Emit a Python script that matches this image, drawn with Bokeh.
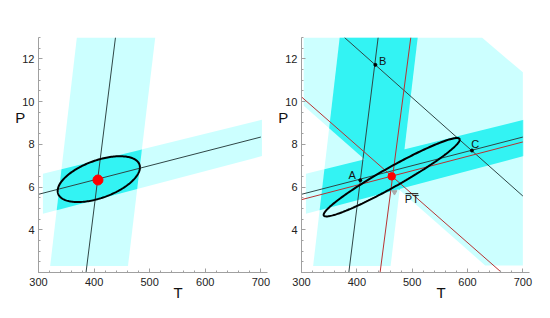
import numpy as np
from bokeh.plotting import figure
from bokeh.layouts import row
from bokeh.models import Range1d, FixedTicker, Title
from bokeh.embed import file_html
from bokeh.resources import INLINE
from bokeh.core.properties import value

# ---------------- data ----------------
x_ticks = [300, 400, 500, 600, 700]
y_ticks = [4, 6, 8, 10, 12]

# uncertainty bands (polygon vertices, T and P)
steep_band_T = [321, 461, 510, 369]
steep_band_P = [2.3, 2.3, 13.0, 13.0]
shallow_band_T = [308, 702, 702, 308]
shallow_band_P = [4.75, 7.45, 9.15, 6.62]
desc_band_T = [304, 626, 700, 700, 632, 304]
desc_band_P = [13.0, 13.0, 11.37, 2.33, 2.33, 9.80]

# reaction lines (end points)
black_steep_T = [385.5, 438.5]
black_steep_P = [2.0, 13.0]
black_shallow_T = [300, 700]
black_shallow_P = [5.66, 8.34]
black_desc_T = [377.7, 700]
black_desc_P = [13.0, 5.58]
red_steep_T = [442, 497.5]
red_steep_P = [2.0, 13.0]
red_shallow_T = [300, 700]
red_shallow_P = [5.41, 8.11]
red_desc_T = [300, 661.6]
red_desc_P = [10.22, 2.0]

# error ellipses: centre, T half-extent, P at T-extreme, P half-chord at centre
ell_left = dict(T=408.5, P=6.37, a=74.0, b=0.55, c=0.92)
ell_right = dict(T=463.0, P=6.46, a=123.0, b=1.76, c=0.52)

# best estimates (red dots)
best_left_T, best_left_P = [407], [6.33]
best_right_T, best_right_P = [463], [6.50]

# intersection points A, B, C
pt_names = ["A", "B", "C"]
pt_T = [406.3, 433.5, 608.0]
pt_P = [6.32, 11.72, 7.71]
pt_label_T = [391.6, 446.5, 614.0]
pt_label_P = [6.58, 11.89, 8.00]

pt_bar_T, pt_bar_P = 499.5, 5.45     # "PT" label
arrow_T, arrow_P = 468.0, 5.76

# ---------------- helpers ----------------
LIGHT = "#ccffff"
DARK = "#33f3f3"
LINE_BLACK = "#2f4646"
LINE_RED = "#b83232"
FONT = "Liberation Sans"


def area(poly):
    s = 0.0
    for i in range(len(poly)):
        x1, y1 = poly[i - 1]
        x2, y2 = poly[i]
        s += x1 * y2 - x2 * y1
    return s / 2


def clip_poly(subj, clip):
    if area(clip) < 0:
        clip = clip[::-1]
    out = list(subj)
    for i in range(len(clip)):
        a = clip[i]
        b = clip[(i + 1) % len(clip)]
        inp, out = out, []
        if not inp:
            break

        def inside(p):
            return (b[0] - a[0]) * (p[1] - a[1]) - (b[1] - a[1]) * (p[0] - a[0]) >= 0

        def inter(p, q):
            x1, y1 = p
            x2, y2 = q
            x3, y3 = a
            x4, y4 = b
            den = (x1 - x2) * (y3 - y4) - (y1 - y2) * (x3 - x4)
            t = ((x1 - x3) * (y3 - y4) - (y1 - y3) * (x3 - x4)) / den
            return (x1 + t * (x2 - x1), y1 + t * (y2 - y1))

        for j in range(len(inp)):
            cur, prev = inp[j], inp[j - 1]
            if inside(cur):
                if not inside(prev):
                    out.append(inter(prev, cur))
                out.append(cur)
            elif inside(prev):
                out.append(inter(prev, cur))
    return out


def poly(T, P):
    return list(zip(T, P))


def ellipse_pts(e):
    t = np.linspace(0, 2 * np.pi, 200)
    return e["T"] + e["a"] * np.cos(t), e["P"] + e["b"] * np.cos(t) + e["c"] * np.sin(t)


def make_fig(bl, br):
    p = figure(width=275, height=318, x_range=Range1d(300, 712), y_range=Range1d(2, 13),
               output_backend="svg", toolbar_location=None,
               min_border_left=bl, min_border_right=br, min_border_top=37, min_border_bottom=46)
    p.grid.visible = False
    p.outline_line_color = None
    p.background_fill_color = "white"
    p.border_fill_color = "white"
    for ax in (p.xaxis[0], p.yaxis[0]):
        ax.axis_line_color = "#a0a0a0"
        ax.major_tick_line_color = "#a0a0a0"
        ax.minor_tick_line_color = "#a0a0a0"
        ax.major_tick_in = 4
        ax.major_tick_out = 0
        ax.minor_tick_in = 2
        ax.minor_tick_out = 0
        ax.major_label_text_font = FONT
        ax.major_label_text_font_size = "11px"
        ax.major_label_text_color = "#222222"
    p.xaxis.ticker = FixedTicker(ticks=x_ticks, minor_ticks=list(range(300, 720, 20)))
    p.yaxis.ticker = FixedTicker(ticks=y_ticks, minor_ticks=list(np.arange(2, 13.01, 0.5)))
    p.xaxis.major_label_standoff = 5
    p.yaxis.major_label_standoff = 4
    # axis titles
    p.add_layout(Title(text="T", align="left", offset=135, text_font=FONT,
                       text_font_size="15px", text_font_style="normal",
                       text_color="#111111", standoff=-13), "below")
    p.yaxis.axis_label = "P\n\u00a0\n\u00a0\n\u00a0\n\u00a0"
    p.yaxis.axis_label_orientation = "horizontal"
    p.yaxis.axis_label_text_font = FONT
    p.yaxis.axis_label_text_font_size = "15px"
    p.yaxis.axis_label_text_font_style = "normal"
    p.yaxis.axis_label_text_color = "#111111"
    p.yaxis.axis_label_text_line_height = 1.1
    p.yaxis.axis_label_standoff = -6
    return p


def draw_bands(p, bands):
    for T, P in bands:
        p.patch(T, P, fill_color=LIGHT, line_color=None)
    for i in range(len(bands)):
        for j in range(i + 1, len(bands)):
            inter = clip_poly(poly(*bands[i]), poly(*bands[j]))
            if len(inter) >= 3:
                xs, ys = zip(*inter)
                p.patch(list(xs), list(ys), fill_color=DARK, line_color=None)


# ---------------- left panel ----------------
p1 = make_fig(38, 8)
draw_bands(p1, [(steep_band_T, steep_band_P), (shallow_band_T, shallow_band_P)])
p1.line(black_steep_T, black_steep_P, line_color=LINE_BLACK, line_width=1)
p1.line(black_shallow_T, black_shallow_P, line_color=LINE_BLACK, line_width=1)
ex, ey = ellipse_pts(ell_left)
p1.line(ex, ey, line_color="black", line_width=2)
p1.scatter(best_left_T, best_left_P, size=10, color="#ff0000")

# ---------------- right panel ----------------
p2 = make_fig(25, 21)
draw_bands(p2, [(steep_band_T, steep_band_P), (shallow_band_T, shallow_band_P),
                (desc_band_T, desc_band_P)])
for T, P in [(black_steep_T, black_steep_P), (black_shallow_T, black_shallow_P),
             (black_desc_T, black_desc_P)]:
    p2.line(T, P, line_color=LINE_BLACK, line_width=1)
for T, P in [(red_steep_T, red_steep_P), (red_shallow_T, red_shallow_P),
             (red_desc_T, red_desc_P)]:
    p2.line(T, P, line_color=LINE_RED, line_width=1)
ex, ey = ellipse_pts(ell_right)
p2.line(ex, ey, line_color="black", line_width=2)
p2.scatter(pt_T, pt_P, size=3, color="black")
p2.text(pt_label_T, pt_label_P, text=pt_names, text_font=value(FONT), text_font_size="11px",
        text_align="center", text_baseline="middle", text_color="#111111")
p2.scatter([arrow_T], [arrow_P], marker="inverted_triangle", size=5, color="#aaaaaa")
p2.text([pt_bar_T], [pt_bar_P], text=["PT"], text_font=value(FONT), text_font_size="11px",
        text_align="center", text_baseline="middle", text_color="#111111")
p2.segment([pt_bar_T - 11.5], [pt_bar_P + 0.24], [pt_bar_T + 11.5], [pt_bar_P + 0.24],
           line_color="#111111", line_width=1)
p2.scatter(best_right_T, best_right_P, size=7.5, color="#ff0000")

layout = row(p1, p2)
open("out.html", "w").write(file_html(layout, INLINE))
